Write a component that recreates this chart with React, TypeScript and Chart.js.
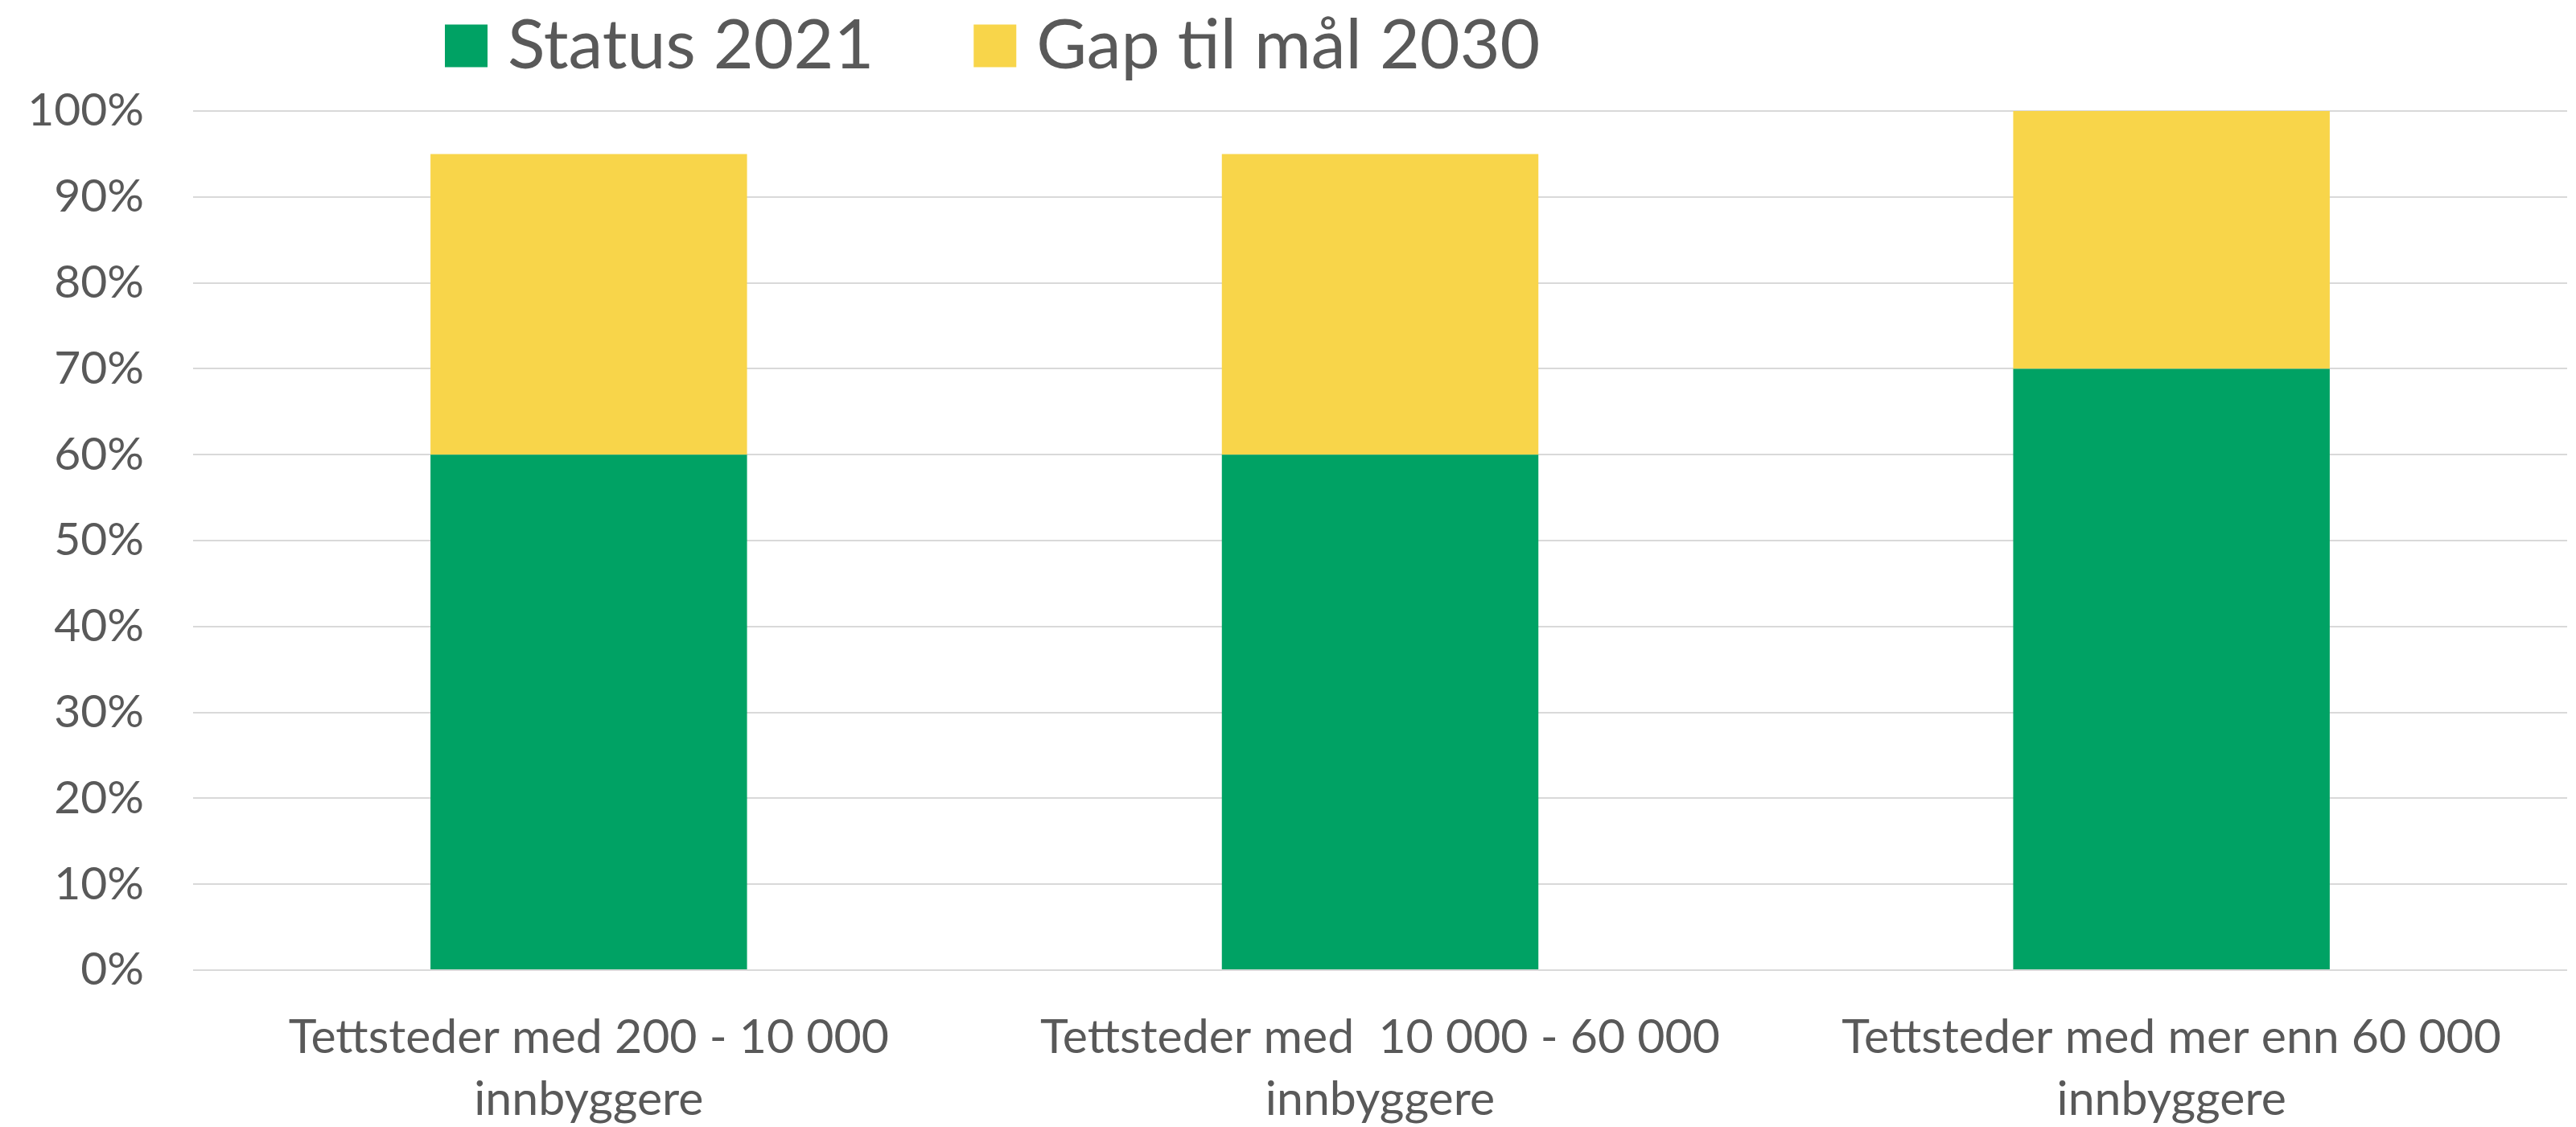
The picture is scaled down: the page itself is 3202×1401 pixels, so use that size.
import React, { useEffect, useRef } from 'react';
import { Chart, registerables } from 'chart.js';

Chart.register(...registerables);

// ---- data ----
const categories: string[][] = [
  ['Tettsteder med 200 - 10 000', 'innbyggere'],
  ['Tettsteder med  10 000 - 60 000', 'innbyggere'],
  ['Tettsteder med mer enn 60 000', 'innbyggere'],
];
const seriesNames = ['Status 2021', 'Gap til mål 2030'];
const status2021 = [60, 60, 70];
const gapTo2030 = [35, 35, 30];
const yMin = 0;
const yMax = 100;
const yStep = 10;

// ---- style ----
const GREEN = '#00A264';
const YELLOW = '#F8D54A';
const TEXT = '#595959';
const GRID = '#D9D9D9';
const FONT = 'Lato';

const LEGEND_ITEM_X = 571;
const LEGEND_ROW_Y = 14;

const legendPlacer = {
  id: 'legendPlacer',
  afterLayout(chart: any) {
    const lg = chart.legend;
    if (!lg) return;
    const p = lg.options.labels.padding;
    lg.left = LEGEND_ITEM_X - p;
    lg.top = LEGEND_ROW_Y - p;
  },
};

export default function App() {
  const ref = useRef<HTMLCanvasElement | null>(null);

  useEffect(() => {
    if (!ref.current) return;
    const chart = new Chart(ref.current, {
      type: 'bar',
      data: {
        labels: categories,
        datasets: [
          {
            label: seriesNames[0],
            data: status2021,
            backgroundColor: GREEN,
            borderWidth: 0,
          },
          {
            label: seriesNames[1],
            data: gapTo2030,
            backgroundColor: YELLOW,
            borderWidth: 0,
          },
        ],
      },
      plugins: [legendPlacer],
      options: {
        responsive: false,
        animation: false,
        devicePixelRatio: 1,
        layout: { padding: { top: 0, right: 11, bottom: 0, left: 0 } },
        datasets: {
          bar: { barPercentage: 0.4, categoryPercentage: 1 },
        },
        plugins: {
          tooltip: { enabled: false },
          title: { display: false },
          legend: {
            display: true,
            position: 'top',
            align: 'start',
            maxHeight: 138,
            labels: {
              color: TEXT,
              font: { family: FONT, size: 86 },
              boxWidth: 17,
              boxHeight: 17,
              padding: 142,
              generateLabels: (chart: any) => {
                const items = (Chart.defaults.plugins.legend.labels as any).generateLabels(chart);
                return items.map((it: any) => ({
                  ...it,
                  strokeStyle: it.fillStyle,
                  lineWidth: 36,
                  lineJoin: 'miter',
                }));
              },
            },
          },
        },
        scales: {
          x: {
            stacked: true,
            grid: { display: false, drawTicks: false },
            border: { display: false },
            ticks: {
              color: TEXT,
              font: { family: FONT, size: 59, lineHeight: 77 / 59 },
              padding: 45,
              maxRotation: 0,
              autoSkip: false,
            },
            afterFit: (scale: any) => {
              scale.height = 195;
            },
          },
          y: {
            stacked: true,
            min: yMin,
            max: yMax,
            grid: { color: GRID, lineWidth: 2, drawTicks: false },
            border: { display: false },
            ticks: {
              stepSize: yStep,
              color: TEXT,
              font: { family: FONT, size: 57 },
              padding: 61,
              callback: (v: any) => `${v}%`,
            },
            afterFit: (scale: any) => {
              scale.width = 240;
            },
          },
        },
      },
    });
    return () => chart.destroy();
  }, []);

  return (
    <div style={{ position: 'fixed', left: 0, top: 0, width: 3202, height: 1401, background: '#ffffff' }}>
      <canvas ref={ref} width={3202} height={1401} style={{ display: 'block' }} />
    </div>
  );
}
